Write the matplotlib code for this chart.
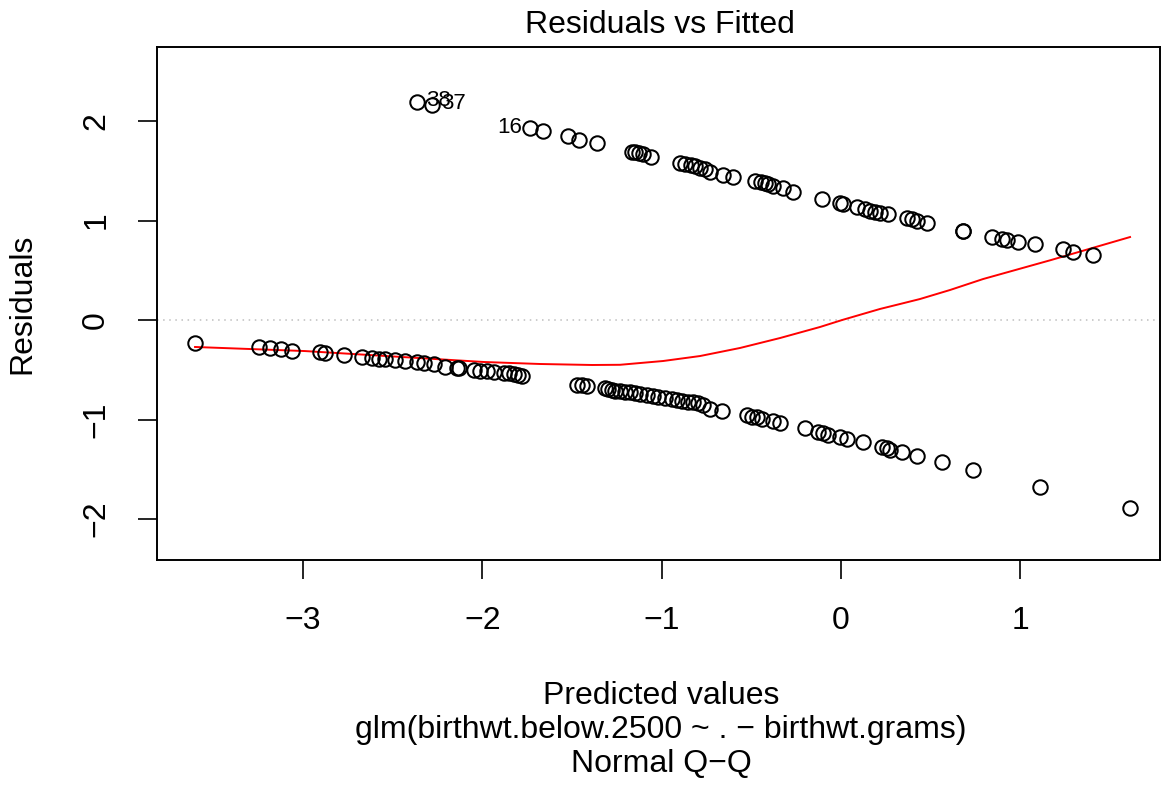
import matplotlib
matplotlib.use('Agg')
import matplotlib.pyplot as plt
import numpy as np

plt.rcParams['font.family'] = ['Liberation Sans', 'DejaVu Sans']

# fitted values (linear predictor) and deviance residuals
fit_hi = [-2.363, -2.280, -1.734, -1.661, -1.522, -1.460, -1.360, -1.165, -1.148,
          -1.126, -1.104, -1.059, -0.897, -0.870, -0.836, -0.814, -0.786, -0.758,
          -0.730, -0.658, -0.602, -0.479, -0.446, -0.424, -0.407, -0.379, -0.323,
          -0.268, -0.106, -0.006, 0.011, 0.089, 0.134, 0.162, 0.190, 0.217, 0.262,
          0.368, 0.396, 0.424, 0.479, 0.680, 0.680, 0.842, 0.897, 0.925, 0.987,
          1.081, 1.237, 1.293, 1.405]
res_hi = [2.191, 2.161, 1.930, 1.899, 1.849, 1.809, 1.779, 1.688, 1.688,
          1.678, 1.668, 1.638, 1.578, 1.568, 1.558, 1.548, 1.528, 1.518,
          1.487, 1.457, 1.437, 1.397, 1.387, 1.377, 1.367, 1.347, 1.327,
          1.286, 1.216, 1.176, 1.166, 1.136, 1.116, 1.095, 1.085, 1.075, 1.065,
          1.025, 1.015, 0.995, 0.975, 0.894, 0.894, 0.834, 0.814, 0.804, 0.784,
          0.764, 0.714, 0.683, 0.653]

fit_lo = [-3.601, -3.244, -3.183, -3.122, -3.060, -2.904, -2.876, -2.770, -2.670,
          -2.614, -2.575, -2.542, -2.486, -2.430, -2.363, -2.324, -2.269, -2.207,
          -2.140, -2.129, -2.046, -2.012, -1.973, -1.934, -1.878, -1.851, -1.823,
          -1.800, -1.778, -1.472, -1.444, -1.416, -1.315, -1.299, -1.276, -1.260,
          -1.232, -1.204, -1.176, -1.148, -1.120, -1.081, -1.048, -1.020, -0.981,
          -0.942, -0.914, -0.886, -0.853, -0.825, -0.797, -0.769, -0.730, -0.663,
          -0.524, -0.496, -0.468, -0.440, -0.379, -0.340, -0.201, -0.128, -0.100,
          -0.072, -0.006, 0.033, 0.123, 0.229, 0.256, 0.273, 0.340, 0.424, 0.563,
          0.736, 1.109, 1.611]
res_lo = [-0.231, -0.271, -0.281, -0.291, -0.312, -0.322, -0.332, -0.352, -0.372,
          -0.382, -0.392, -0.392, -0.402, -0.412, -0.422, -0.432, -0.442, -0.472,
          -0.482, -0.482, -0.503, -0.513, -0.513, -0.523, -0.533, -0.533, -0.543,
          -0.553, -0.563, -0.653, -0.653, -0.663, -0.683, -0.693, -0.704, -0.714,
          -0.714, -0.724, -0.724, -0.734, -0.744, -0.754, -0.764, -0.774, -0.784,
          -0.794, -0.804, -0.814, -0.824, -0.824, -0.834, -0.854, -0.894, -0.915,
          -0.955, -0.975, -0.975, -0.995, -1.015, -1.035, -1.085, -1.126, -1.136,
          -1.156, -1.176, -1.196, -1.226, -1.276, -1.286, -1.307, -1.327, -1.367,
          -1.427, -1.508, -1.678, -1.889]

# smoother (red line)
smooth_x = [-3.601, -2.988, -1.990, -1.678, -1.388, -1.232, -0.992, -0.786,
            -0.563, -0.340, -0.117, 0.006, 0.217, 0.329, 0.440, 0.608, 0.792,
            1.165, 1.611]
smooth_y = [-0.271, -0.312, -0.422, -0.442, -0.452, -0.450, -0.412, -0.362,
            -0.281, -0.181, -0.070, 0.000, 0.111, 0.161, 0.211, 0.302, 0.412,
            0.600, 0.834]

# labelled extreme points
lab_x = [-2.363, -2.280, -1.734]
lab_y = [2.191, 2.161, 1.930]
lab_txt = ['38', '37', '16']

W, H = 1165, 791
fig = plt.figure(figsize=(W / 100, H / 100), dpi=100)
ax = fig.add_axes([157 / W, 1 - 560 / H, (1160 - 157) / W, (560 - 47) / H])

ax.axhline(0, color='#bebebe', ls=(0, (1, 3)), lw=1.1, zorder=1)
ax.plot(fit_hi + fit_lo, res_hi + res_lo, 'o', mfc='none', mec='black',
        ms=10.4, mew=1.45, zorder=3)
ax.plot(smooth_x, smooth_y, color='red', lw=1.4, zorder=2)

for x, y, t in zip(lab_x, lab_y, lab_txt):
    if t == '16':
        ax.annotate(t, (x, y), xytext=(-8, 0), textcoords='offset pixels',
                    ha='right', va='center', fontsize=16)
    else:
        ax.annotate(t, (x, y), xytext=(9, 2), textcoords='offset pixels',
                    ha='left', va='center', fontsize=16)

ax.set_xlim(-3.813, 1.778)
ax.set_ylim(-2.412, 2.744)
ax.set_xticks([-3, -2, -1, 0, 1])
ax.set_yticks([-2, -1, 0, 1, 2])
ax.tick_params(length=14, width=1.2, pad=19, labelsize=23)
ax.tick_params(axis='y', labelrotation=90)
for lb in ax.get_yticklabels():
    lb.set_va('center')
for s in ax.spines.values():
    s.set_linewidth(1.4)

fig.text(660 / W, 1 - 33 / H, 'Residuals vs Fitted', ha='center',
         va='baseline', fontsize=23)
fig.text(22.5 / W, 1 - 303.5 / H, 'Residuals', rotation=90, ha='center',
         va='center', fontsize=23)
fig.text(661 / W, 1 - 704 / H, 'Predicted values', ha='center',
         va='baseline', fontsize=23)
fig.text(661 / W, 1 - 738 / H, 'glm(birthwt.below.2500 ~ . \u2212 birthwt.grams)',
         ha='center', va='baseline', fontsize=23)
fig.text(661 / W, 1 - 772 / H, 'Normal Q\u2212Q', ha='center',
         va='baseline', fontsize=23)

fig.savefig('out.png', dpi=100)
